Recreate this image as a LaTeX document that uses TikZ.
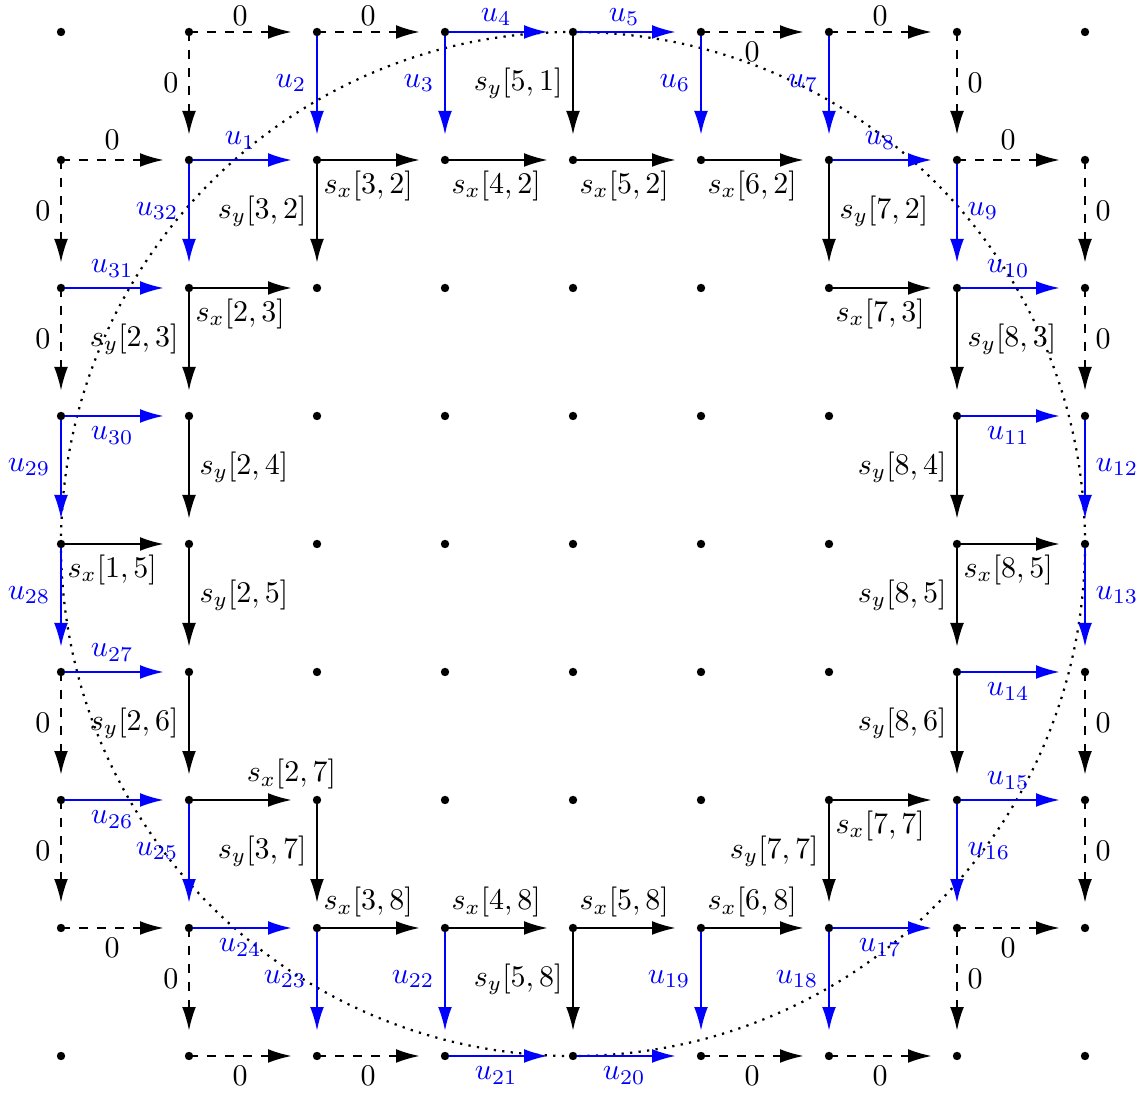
\documentclass[tikz,border=0pt]{standalone}
\usetikzlibrary{arrows.meta}
\begin{document}
\begin{tikzpicture}[x=1.5cm,y=1.5cm,
  dot/.style={circle,fill=black,inner sep=0pt,minimum size=2.8pt},
  arr/.style={-{Latex[length=7.8pt,width=4.6pt]},shorten >=0.3cm,line width=0.45pt},
  zero/.style={arr,black,dashed},
  bl/.style={arr,blue},
  sk/.style={arr,black},
  toplab/.style={above,inner ysep=0.3pt,yshift=1.6pt},
  ring/.style={black,line width=0.75pt,dash pattern=on 0.75pt off 2.1pt}]
\useasboundingbox (-0.4766,0.25) rectangle (8.4141,-8.3047);
% grid coordinates
\foreach \i in {0,...,8}{
  \foreach \j in {0,...,8}{
    \coordinate (p-\i-\j) at (\i,-\j);
  }
}
% dotted circle
\draw[ring] (p-4-4) circle[radius=4];
% horizontal arrows
\foreach \i/\j/\s/\p/\t in {
  1/0/zero/toplab/0, 2/0/zero/toplab/0, 3/0/bl/toplab/u_4, 4/0/bl/toplab/u_5, 5/0/zero/below/0, 6/0/zero/toplab/0,
  0/1/zero/above/0, 1/1/bl/above/u_1, 2/1/sk/below/{s_x[3,2]}, 3/1/sk/below/{s_x[4,2]}, 4/1/sk/below/{s_x[5,2]}, 5/1/sk/below/{s_x[6,2]}, 6/1/bl/above/u_8, 7/1/zero/above/0,
  0/2/bl/above/u_{31}, 1/2/sk/below/{s_x[2,3]}, 6/2/sk/below/{s_x[7,3]}, 7/2/bl/above/u_{10},
  0/3/bl/below/u_{30}, 7/3/bl/below/u_{11},
  0/4/sk/below/{s_x[1,5]}, 7/4/sk/below/{s_x[8,5]},
  0/5/bl/above/u_{27}, 7/5/bl/below/u_{14},
  0/6/bl/below/u_{26}, 6/6/sk/below/{s_x[7,7]}, 7/6/bl/above/u_{15},
  0/7/zero/below/0, 1/7/bl/below/u_{24}, 2/7/sk/above/{s_x[3,8]}, 3/7/sk/above/{s_x[4,8]}, 4/7/sk/above/{s_x[5,8]}, 5/7/sk/above/{s_x[6,8]}, 6/7/bl/below/u_{17}, 7/7/zero/below/0,
  1/8/zero/below/0, 2/8/zero/below/0, 3/8/bl/below/u_{21}, 4/8/bl/below/u_{20}, 5/8/zero/below/0, 6/8/zero/below/0}{
  \pgfmathtruncatemacro\ii{\i+1}
  \draw[\s] (p-\i-\j) -- (p-\ii-\j) node[pos=0.4,\p]{$\t$};
}
\draw[sk] (p-1-6) -- (p-2-6) node[pos=0.8,above]{$s_x[2,7]$};
% vertical arrows
\foreach \i/\j/\s/\p/\t in {
  1/0/zero/left/0, 2/0/bl/left/u_2, 3/0/bl/left/u_3, 4/0/sk/left/{s_y[5,1]}, 5/0/bl/left/u_6, 6/0/bl/left/u_7, 7/0/zero/right/0,
  0/1/zero/left/0, 1/1/bl/left/u_{32}, 2/1/sk/left/{s_y[3,2]}, 6/1/sk/right/{s_y[7,2]}, 7/1/bl/right/u_9, 8/1/zero/right/0,
  0/2/zero/left/0, 1/2/sk/left/{s_y[2,3]}, 7/2/sk/right/{s_y[8,3]}, 8/2/zero/right/0,
  0/3/bl/left/u_{29}, 1/3/sk/right/{s_y[2,4]}, 7/3/sk/left/{s_y[8,4]}, 8/3/bl/right/u_{12},
  0/4/bl/left/u_{28}, 1/4/sk/right/{s_y[2,5]}, 7/4/sk/left/{s_y[8,5]}, 8/4/bl/right/u_{13},
  0/5/zero/left/0, 1/5/sk/left/{s_y[2,6]}, 7/5/sk/left/{s_y[8,6]}, 8/5/zero/right/0,
  0/6/zero/left/0, 1/6/bl/left/u_{25}, 2/6/sk/left/{s_y[3,7]}, 6/6/sk/left/{s_y[7,7]}, 7/6/bl/right/u_{16}, 8/6/zero/right/0,
  1/7/zero/left/0, 2/7/bl/left/u_{23}, 3/7/bl/left/u_{22}, 4/7/sk/left/{s_y[5,8]}, 5/7/bl/left/u_{19}, 6/7/bl/left/u_{18}, 7/7/zero/right/0}{
  \pgfmathtruncatemacro\jj{\j+1}
  \draw[\s] (p-\i-\j) -- (p-\i-\jj) node[pos=0.4,\p]{$\t$};
}
% dots on top
\foreach \i in {0,...,8}{
  \foreach \j in {0,...,8}{
    \node[dot] (d-\i-\j) at (p-\i-\j) {};
  }
}
\end{tikzpicture}
\end{document}
